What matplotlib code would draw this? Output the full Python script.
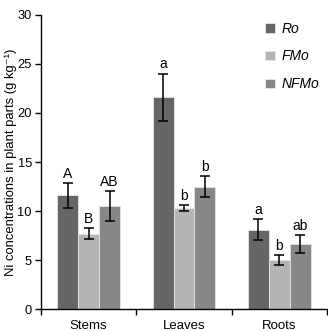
import numpy as np
import matplotlib.pyplot as plt

plt.rcParams['font.family'] = ['Liberation Sans', 'DejaVu Sans']

# data
parts = ['Stems', 'Leaves', 'Roots']
treatments = ['Ro', 'FMo', 'NFMo']
means = {
    'Ro':   [11.6, 21.6, 8.1],
    'FMo':  [7.7, 10.3, 5.0],
    'NFMo': [10.5, 12.5, 6.6],
}
errors = {
    'Ro':   [1.25, 2.4, 1.05],
    'FMo':  [0.55, 0.27, 0.48],
    'NFMo': [1.55, 1.07, 0.92],
}
letters = {
    'Ro':   ['A', 'a', 'a'],
    'FMo':  ['B', 'b', 'b'],
    'NFMo': ['AB', 'b', 'ab'],
}
colors = {'Ro': '#666666', 'FMo': '#b4b4b4', 'NFMo': '#878787'}

fig = plt.figure(figsize=(3.28, 3.31), dpi=100)
ax = fig.add_axes([0.125, 0.066, 0.872, 0.889])

x = np.arange(len(parts))
width = 0.22
for i, t in enumerate(treatments):
    pos = x + (i - 1) * width
    ax.bar(pos, means[t], width, color=colors[t], edgecolor='#e6e6e6',
           linewidth=0.6, label=t, zorder=2)
    ax.errorbar(pos, means[t], yerr=errors[t], fmt='none', ecolor='black',
                elinewidth=1.1, capsize=3.5, capthick=1.1, zorder=3)
    for p, m, e, l in zip(pos, means[t], errors[t], letters[t]):
        ax.text(p, m + e + 0.25, l, ha='center', va='bottom', fontsize=10)

ax.set_xlim(-0.5, 2.5)
ax.set_ylim(0, 30)
ax.set_yticks(np.arange(0, 31, 5))
ax.set_xticks([-0.5, 0.5, 1.5, 2.5])
ax.set_xticklabels([])
ax.set_xticks(x, minor=True)
ax.set_xticklabels(parts, minor=True)
ax.tick_params(axis='x', which='minor', length=0, pad=8, labelsize=9.5)
ax.tick_params(axis='x', which='major', length=4, direction='out', width=1)
ax.tick_params(axis='y', length=4, direction='out', width=1, labelsize=9.3, pad=2.5)

for s in ['top', 'right']:
    ax.spines[s].set_visible(False)
for s in ['left', 'bottom']:
    ax.spines[s].set_linewidth(1)

ax.set_ylabel('Ni concentrations in plant parts (g kg\u207b\u00b9)', fontsize=9.4)
ax.yaxis.set_label_coords(-0.083, 0.5)

leg = ax.legend(loc='upper left', bbox_to_anchor=(0.74, 1.02), frameon=False,
                fontsize=10, handlelength=0.7, handleheight=0.7,
                labelspacing=1.0, handletextpad=0.5)
for txt in leg.get_texts():
    txt.set_style('italic')

fig.savefig('out.png', dpi=100)
